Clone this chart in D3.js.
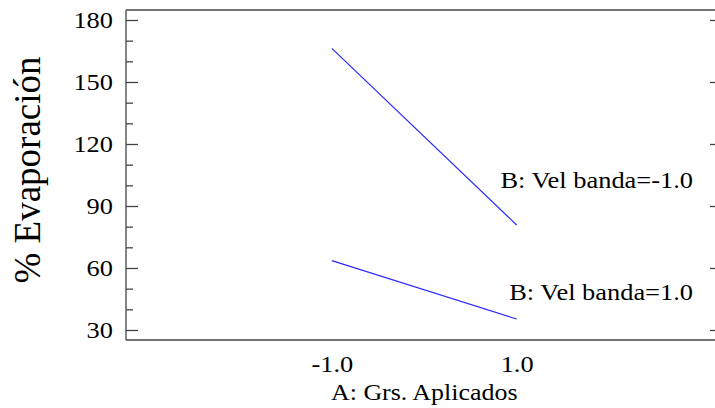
<!DOCTYPE html>
<html>
<head>
<meta charset="utf-8">
<script src="https://cdn.jsdelivr.net/npm/d3@7"></script>
<style>
  html, body { margin: 0; padding: 0; background: #fff; }
  svg { display: block; }
</style>
</head>
<body>
<svg id="chart" width="715" height="408"></svg>
<script>
// ---- data ----
const xLevels = [-1, 1];
const xTickLabels = ["-1.0", "1.0"];
const seriesNames = ["B: Vel banda=-1.0", "B: Vel banda=1.0"];
const velBandaMinus = [166.3, 80.8];
const velBandaPlus = [63.6, 35.3];
const yTicks = [30, 60, 90, 120, 150, 180];
const yMinorTicks = [40, 50, 70, 80, 100, 110, 130, 140, 160, 170];
const xTitle = "A: Grs. Aplicados";
const yTitle = "% Evaporación";

// ---- layout ----
const FONT = '"Liberation Serif", "Times New Roman", serif';
const svg = d3.select("#chart");
const plotL = 126, plotR = 715, plotT = 10, plotB = 340;

const x = d3.scaleLinear().domain([-3.227, 3.146]).range([plotL, plotR]);
const y = d3.scaleLinear().domain([25.16, 184.84]).range([plotB, plotT]);

const axisColor = "#444";

function styleText(sel, size, stretch) {
  sel.style("font-family", FONT).style("font-size", size + "px").attr("fill", "#000");
  if (stretch) {
    sel.each(function () {
      const w = this.getComputedTextLength();
      d3.select(this).attr("textLength", w * stretch).attr("lengthAdjust", "spacingAndGlyphs");
    });
  }
  return sel;
}

// frame lines (left, top, bottom)
svg.append("line").attr("x1", plotL).attr("x2", plotL).attr("y1", plotT).attr("y2", plotB)
  .attr("stroke", axisColor).attr("stroke-width", 1.3);
svg.append("line").attr("x1", plotL).attr("x2", plotR).attr("y1", plotT).attr("y2", plotT)
  .attr("stroke", axisColor).attr("stroke-width", 1.3);
svg.append("line").attr("x1", plotL).attr("x2", plotR).attr("y1", plotB).attr("y2", plotB)
  .attr("stroke", axisColor).attr("stroke-width", 1.3);

// major y axis
const yAxis = svg.append("g").attr("transform", `translate(${plotL},0)`)
  .call(d3.axisLeft(y).tickValues(yTicks).tickFormat(d3.format("d"))
    .tickSizeInner(-12).tickSizeOuter(0).tickPadding(13));
yAxis.select(".domain").remove();
yAxis.selectAll("line").attr("stroke", axisColor).attr("stroke-width", 1.3);
styleText(yAxis.selectAll("text"), 24, 1.1);

// minor y ticks
const yMinor = svg.append("g").attr("transform", `translate(${plotL},0)`)
  .call(d3.axisLeft(y).tickValues(yMinorTicks).tickFormat("")
    .tickSizeInner(-7).tickSizeOuter(0));
yMinor.select(".domain").remove();
yMinor.selectAll("line").attr("stroke", axisColor).attr("stroke-width", 1.3);

// right side ticks (major)
const yRight = svg.append("g").attr("transform", `translate(${plotR},0)`)
  .call(d3.axisRight(y).tickValues(yTicks).tickFormat("")
    .tickSizeInner(-5).tickSizeOuter(0));
yRight.select(".domain").remove();
yRight.selectAll("line").attr("stroke", axisColor).attr("stroke-width", 1.3);

// x axis labels
const xAxis = svg.append("g").attr("transform", `translate(0,${plotB})`)
  .call(d3.axisBottom(x).tickValues(xLevels).tickFormat((d, i) => xTickLabels[i])
    .tickSize(0).tickPadding(15));
xAxis.select(".domain").remove();
styleText(xAxis.selectAll("text"), 24, 1.1);

// lines
const line = d3.line().x((d, i) => x(xLevels[i])).y(d => y(d));
[velBandaMinus, velBandaPlus].forEach(s => {
  svg.append("path").datum(s).attr("d", line)
    .attr("fill", "none").attr("stroke", "#2a2aff").attr("stroke-width", 1.2);
});

// series labels
styleText(svg.append("text").attr("x", 693).attr("y", 188).attr("text-anchor", "end")
  .text(seriesNames[0]), 24, 1.1);
styleText(svg.append("text").attr("x", 693).attr("y", 300).attr("text-anchor", "end")
  .text(seriesNames[1]), 24, 1.1);

// axis titles
styleText(svg.append("text").attr("x", (x(-1) + x(1)) / 2).attr("y", 400).attr("text-anchor", "middle")
  .text(xTitle), 24, 1.08);
styleText(svg.append("text").attr("transform", "translate(40,170) rotate(-90)")
  .attr("text-anchor", "middle").text(yTitle), 37, 1.0);
</script>
</body>
</html>
